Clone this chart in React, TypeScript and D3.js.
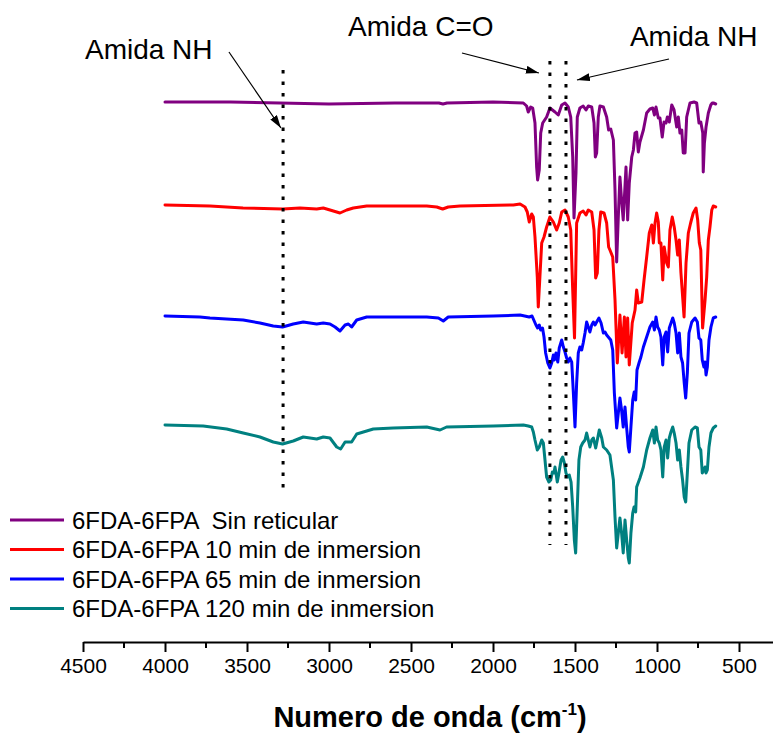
import React, { useRef, useEffect } from "react";
import * as d3 from "d3";

type Pt = [number, number];

// [numero de onda (cm-1), transmitancia (u.a., curvas desplazadas)]
const sinReticular: Pt[] = [
  [4000, 539], [3600, 539], [3300, 538], [3000, 537], [2600, 538], [2330, 538], [2305, 537], [2280, 538],
  [2000, 539], [1815, 538], [1795, 535], [1785, 529], [1770, 534], [1758, 533], [1744, 518], [1734, 474],
  [1728, 461], [1718, 471], [1709, 508], [1697, 518], [1673, 524], [1653, 533], [1622, 529], [1602, 526],
  [1581, 536], [1561, 538], [1541, 534], [1526, 524], [1514, 484], [1506, 423], [1494, 468], [1486, 524],
  [1470, 533], [1450, 535], [1433, 531], [1419, 535], [1398, 534], [1384, 518], [1376, 484], [1368, 488],
  [1358, 524], [1348, 535], [1327, 534], [1307, 524], [1295, 511], [1282, 512], [1266, 501], [1256, 451],
  [1246, 379], [1236, 424], [1226, 464], [1216, 441], [1206, 421], [1189, 474], [1179, 421], [1169, 458],
  [1154, 484], [1144, 491], [1134, 508], [1124, 509], [1114, 489], [1104, 499], [1083, 511], [1063, 528],
  [1043, 532], [1026, 533], [1016, 526], [1006, 534], [992, 523], [982, 523], [968, 504], [957, 519],
  [945, 518], [937, 524], [925, 519], [910, 536], [896, 531], [880, 514], [870, 524], [860, 508],
  [849, 511], [840, 488], [829, 488], [819, 524], [799, 538], [774, 539], [758, 538], [744, 518],
  [733, 519], [721, 508], [718, 469], [711, 498], [701, 514], [687, 528], [672, 536], [663, 538],
  [656, 538], [642, 537],
];

const inmersion10: Pt[] = [
  [4000, 436], [3726, 435], [3524, 433], [3282, 432], [3177, 433], [3075, 432], [3035, 433], [2994, 431],
  [2933, 428], [2892, 431], [2852, 433], [2770, 435], [2404, 435], [2343, 434], [2307, 432], [2273, 434],
  [2201, 435], [1876, 436], [1835, 437], [1805, 434], [1791, 429], [1779, 419], [1764, 427], [1754, 424],
  [1744, 404], [1730, 364], [1724, 334], [1714, 364], [1703, 398], [1689, 404], [1673, 414], [1653, 424],
  [1632, 419], [1612, 411], [1596, 418], [1581, 429], [1561, 431], [1541, 424], [1526, 411], [1514, 351],
  [1503, 303], [1490, 418], [1470, 428], [1450, 430], [1433, 426], [1419, 431], [1398, 429], [1384, 411],
  [1374, 363], [1364, 368], [1354, 411], [1343, 429], [1323, 428], [1307, 418], [1295, 394], [1287, 391],
  [1270, 384], [1256, 341], [1242, 278], [1226, 326], [1213, 288], [1199, 324], [1189, 284], [1179, 323],
  [1169, 276], [1151, 318], [1134, 331], [1124, 351], [1114, 338], [1093, 339], [1079, 361], [1063, 384],
  [1047, 408], [1032, 416], [1022, 398], [1012, 418], [1002, 428], [992, 419], [986, 398], [976, 398],
  [965, 361], [956, 394], [941, 378], [931, 374], [921, 411], [907, 424], [895, 414], [884, 401],
  [874, 386], [864, 401], [854, 368], [835, 324], [823, 378], [809, 408], [795, 418], [779, 428],
  [762, 433], [752, 421], [742, 398], [733, 391], [722, 313], [707, 341], [697, 364], [687, 401],
  [677, 414], [666, 431], [657, 435], [642, 434],
];

const inmersion65: Pt[] = [
  [4000, 325], [3787, 324], [3726, 323], [3523, 321], [3421, 318], [3340, 315], [3283, 314], [3218, 317],
  [3157, 319], [3075, 317], [3035, 318], [2994, 317], [2963, 314], [2933, 310], [2902, 316], [2882, 317],
  [2862, 314], [2831, 321], [2770, 324], [2404, 324], [2333, 323], [2303, 320], [2273, 324], [1998, 325],
  [1835, 326], [1779, 324], [1762, 325], [1738, 316], [1728, 313], [1718, 316], [1709, 311], [1698, 313],
  [1689, 304], [1679, 288], [1666, 278], [1653, 273], [1642, 278], [1632, 286], [1626, 281], [1616, 288],
  [1605, 279], [1596, 293], [1581, 301], [1571, 294], [1561, 289], [1551, 283], [1541, 279], [1531, 283],
  [1520, 279], [1510, 248], [1500, 214], [1490, 258], [1480, 288], [1470, 294], [1459, 291], [1450, 298],
  [1439, 308], [1429, 319], [1419, 314], [1409, 309], [1398, 316], [1388, 319], [1378, 316], [1368, 319],
  [1354, 323], [1341, 318], [1327, 308], [1317, 309], [1307, 306], [1297, 304], [1282, 301], [1270, 291],
  [1260, 248], [1246, 213], [1236, 228], [1226, 243], [1216, 231], [1206, 214], [1195, 234], [1185, 213],
  [1175, 194], [1169, 189], [1159, 214], [1148, 241], [1139, 249], [1130, 241], [1122, 271], [1108, 279],
  [1098, 284], [1083, 294], [1063, 304], [1043, 314], [1026, 319], [1016, 311], [1006, 324], [996, 314],
  [986, 311], [976, 304], [965, 276], [956, 304], [945, 309], [935, 289], [925, 313], [904, 323],
  [895, 318], [884, 308], [874, 288], [864, 308], [854, 284], [844, 278], [834, 258], [825, 243],
  [815, 268], [805, 308], [788, 319], [768, 323], [754, 319], [744, 303], [733, 301], [724, 281],
  [714, 274], [707, 279], [701, 266], [693, 274], [683, 301], [671, 314], [657, 323], [642, 324],
];

const inmersion120: Pt[] = [
  [4000, 216], [3767, 215], [3624, 212], [3523, 208], [3421, 204], [3340, 199], [3283, 197], [3218, 200],
  [3157, 204], [3075, 202], [3035, 204], [2994, 203], [2953, 194], [2929, 192], [2902, 199], [2862, 199],
  [2831, 207], [2730, 212], [2608, 213], [2404, 214], [2323, 211], [2283, 214], [1998, 215], [1815, 216],
  [1785, 215], [1764, 214], [1754, 209], [1744, 201], [1730, 191], [1718, 194], [1703, 201], [1693, 198],
  [1683, 181], [1673, 164], [1659, 159], [1648, 161], [1638, 169], [1628, 168], [1622, 174], [1608, 159],
  [1598, 168], [1585, 181], [1575, 184], [1565, 178], [1555, 168], [1545, 164], [1535, 166], [1524, 159],
  [1514, 134], [1504, 101], [1496, 88], [1486, 134], [1476, 181], [1465, 194], [1453, 198], [1439, 201],
  [1429, 208], [1419, 201], [1409, 194], [1398, 201], [1388, 203], [1374, 193], [1364, 201], [1352, 211],
  [1337, 203], [1327, 194], [1307, 191], [1287, 186], [1266, 161], [1256, 124], [1246, 93], [1236, 108],
  [1226, 123], [1216, 108], [1206, 88], [1195, 121], [1185, 101], [1175, 83], [1169, 78], [1159, 108],
  [1148, 128], [1140, 134], [1130, 129], [1124, 154], [1104, 163], [1083, 174], [1063, 191], [1043, 203],
  [1026, 211], [1016, 198], [1006, 214], [996, 201], [986, 198], [976, 191], [965, 164], [956, 194],
  [945, 201], [935, 183], [925, 203], [915, 209], [904, 214], [895, 208], [884, 198], [874, 181],
  [864, 191], [854, 174], [844, 161], [834, 144], [825, 139], [815, 168], [805, 198], [788, 211],
  [768, 214], [754, 213], [744, 194], [733, 191], [724, 168], [714, 171], [707, 174], [701, 168],
  [693, 171], [683, 194], [671, 208], [657, 213], [642, 215],
];

const seriesData = [sinReticular, inmersion10, inmersion65, inmersion120];
const seriesNames = [
  "6FDA-6FPA  Sin reticular",
  "6FDA-6FPA 10 min de inmersion",
  "6FDA-6FPA 65 min de inmersion",
  "6FDA-6FPA 120 min de inmersion",
];
const seriesColors = ["#800080", "#FF0000", "#0000FF", "#008080"];

const majorTicks = [4500, 4000, 3500, 3000, 2500, 2000, 1500, 1000, 500];
const minorTicks = [4250, 3750, 3250, 2750, 2250, 1750, 1250, 750];

// bandas marcadas con lineas punteadas
const bandLines = [
  { wn: 3280, from: 148, to: 571 },
  { wn: 1653, from: 96, to: 580 },
  { wn: 1555, from: 96, to: 580 },
];
const bandLabels = [
  { text: "Amida NH", wn: 4488, v: 582 },
  { text: "Amida C=O", wn: 2884, v: 605 },
  { text: "Amida NH", wn: 1165, v: 595 },
];
const bandArrows: { from: Pt; to: Pt }[] = [
  { from: [3610, 589], to: [3293, 513] },
  { from: [2189, 588], to: [1720, 568] },
  { from: [927, 582], to: [1488, 561] },
];

const W = 773;
const H = 736;
const AXIS_Y = 642;
const FONT = "'Liberation Sans', Arial, Helvetica, sans-serif";

export default function App() {
  const axisRef = useRef<SVGGElement>(null);

  const x = d3.scaleLinear().domain([4500, 250]).range([83, 780]);
  const y = d3.scaleLinear().domain([0, 600]).range([641, 41]);

  const line = d3
    .line<Pt>()
    .x((d) => x(d[0]))
    .y((d) => y(d[1]));

  useEffect(() => {
    const g = d3.select(axisRef.current);
    g.selectAll("*").remove();
    g.call(
      d3
        .axisBottom(x)
        .tickValues(majorTicks)
        .tickSize(10)
        .tickSizeOuter(0)
        .tickPadding(6)
        .tickFormat(d3.format("d"))
    );
    g.attr("font-size", 21).attr("font-family", FONT);
    g.select(".domain").attr("stroke-width", 2);
    g.selectAll(".tick line").attr("stroke-width", 2);
    g.selectAll(".tick text").attr("fill", "#000");

    // minor ticks
    g.append("g")
      .selectAll("line")
      .data(minorTicks)
      .join("line")
      .attr("x1", (d) => x(d))
      .attr("x2", (d) => x(d))
      .attr("y1", 0)
      .attr("y2", 6)
      .attr("stroke", "#000")
      .attr("stroke-width", 2);
  });

  const legendRows = [520, 549.5, 579, 608.5];

  return (
    <div style={{ position: "absolute", left: 0, top: 0 }}>
      <svg width={W} height={H} style={{ display: "block", background: "#fff" }}>
        <defs>
          <marker
            id="flecha"
            markerUnits="userSpaceOnUse"
            markerWidth={13}
            markerHeight={8}
            refX={13}
            refY={4}
            orient="auto"
          >
            <path d="M0,0 L13,4 L0,8 Z" fill="#000" />
          </marker>
        </defs>

        {seriesData.map((s, i) => (
          <path
            key={i}
            d={line(s) || ""}
            fill="none"
            stroke={seriesColors[i]}
            strokeWidth={3}
            strokeLinejoin="round"
            strokeLinecap="round"
          />
        ))}

        {bandLines.map((b, i) => (
          <line
            key={i}
            x1={x(b.wn)}
            x2={x(b.wn)}
            y1={y(b.to)}
            y2={y(b.from)}
            stroke="#000"
            strokeWidth={3}
            strokeDasharray="3.5 8"
          />
        ))}

        {bandArrows.map((a, i) => (
          <line
            key={i}
            x1={x(a.from[0])}
            y1={y(a.from[1])}
            x2={x(a.to[0])}
            y2={y(a.to[1])}
            stroke="#000"
            strokeWidth={1.2}
            markerEnd="url(#flecha)"
          />
        ))}

        {bandLabels.map((l, i) => (
          <text key={i} x={x(l.wn)} y={y(l.v)} fontFamily={FONT} fontSize={28} fill="#000">
            {l.text}
          </text>
        ))}

        <g ref={axisRef} transform={`translate(0,${AXIS_Y})`} />

        <text
          x={430}
          y={727}
          textAnchor="middle"
          fontFamily={FONT}
          fontSize={29}
          fontWeight="bold"
          fill="#000"
        >
          Numero de onda (cm
          <tspan fontSize={17} dy={-12}>
            -1
          </tspan>
          <tspan dy={12}>)</tspan>
        </text>

        {seriesNames.map((n, i) => (
          <g key={i} transform={`translate(0,${legendRows[i]})`}>
            <line x1={10} x2={64} y1={0} y2={0} stroke={seriesColors[i]} strokeWidth={3} />
            <text x={72} dy="0.36em" fontFamily={FONT} fontSize={24} fill="#000" style={{ whiteSpace: "pre" }}>
              {n}
            </text>
          </g>
        ))}
      </svg>
    </div>
  );
}
